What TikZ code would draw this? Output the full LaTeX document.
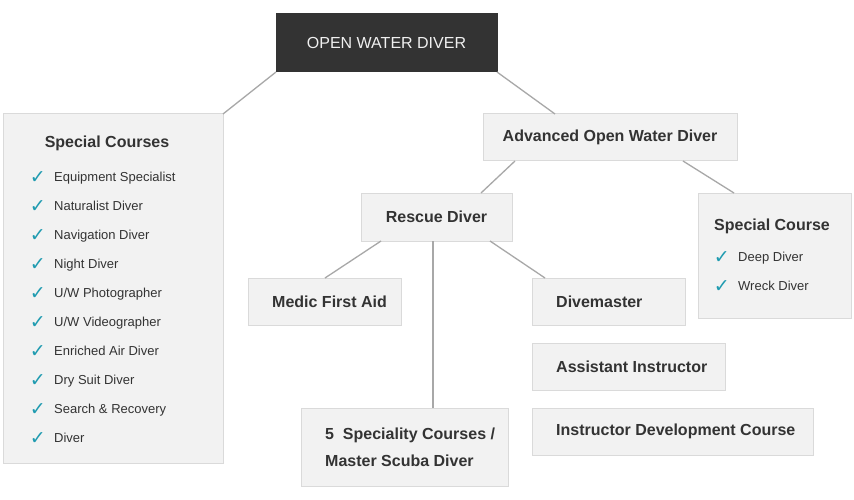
\documentclass[tikz,border=0pt]{standalone}
\usepackage{fontspec}
\setmainfont{Liberation Sans}
\newfontfamily\symfont{DejaVu Sans}
\usetikzlibrary{positioning, calc}
\definecolor{owdgray}{HTML}{333333}
\definecolor{boxfill}{HTML}{F2F2F2}
\definecolor{boxline}{HTML}{DADADA}
\definecolor{linkgray}{HTML}{A8A8A8}
\definecolor{txtgray}{HTML}{333333}
\definecolor{tickblue}{HTML}{1F9BB0}
\newcommand{\chk}{{\symfont\color{tickblue}✓}}

\begin{document}
\begin{tikzpicture}[x=1pt, y=-1pt,
  box/.style={draw=boxline, fill=boxfill, line width=1pt, anchor=north west, inner sep=0pt, outer sep=0pt},
  btxt/.style={font=\fontsize{16}{27}\selectfont\bfseries, text=txtgray, inner sep=0pt},
  item/.style={font=\fontsize{13}{16}\selectfont, text=txtgray, inner sep=0pt, anchor=west, text height=10pt, text depth=3pt},
  chkmark/.style={font=\fontsize{19}{19}\selectfont, inner sep=0pt},
  link/.style={draw=linkgray, line width=1.3pt},
]
\useasboundingbox[fill=white] (0,0) rectangle (854,500);

%% Top
\node[box, fill=owdgray, draw=owdgray, minimum width=221pt, minimum height=58pt,
  font=\fontsize{16}{19}\selectfont, text=white!94!black] (owd) at (276,14) {OPEN WATER DIVER};

%% Special courses, left column
\node[box, minimum width=220pt, minimum height=349pt] (sc) at (3,114) {};
\node[btxt] (sctitle) at (107,143) {Special Courses};
\foreach \crs [count=\i] in {Equipment Specialist, Naturalist Diver, Navigation Diver,
  Night Diver, U/W Photographer, U/W Videographer, Enriched Air Diver,
  Dry Suit Diver, Search \& Recovery, Diver} {
  \node[item] (sc\i) at (54,{149+29*\i}) {\crs};
  \node[chkmark, left=8pt of sc\i] (ck\i) {\chk};
}

%% Advanced branch
\node[box, btxt, minimum width=254pt, minimum height=47pt] (aow) at (483,114) {Advanced Open Water Diver};
\node[box, btxt, minimum width=151pt, minimum height=48pt] (rd) at (361,193) {Rescue Diver};
\node[box, minimum width=153pt, minimum height=125pt] (scr) at (698,193) {};
\node[btxt, anchor=west] (scrtitle) at (714,226) {Special Course};
\node[item] (scr1) at (738,258) {Deep Diver};
\node[chkmark, left=8pt of scr1] (scrck1) {\chk};
\node[item] (scr2) at (738,287) {Wreck Diver};
\node[chkmark, left=8pt of scr2] (scrck2) {\chk};

%% Rescue branch
\node[box, minimum width=153pt, minimum height=47pt] (mfa) at (248,278) {};
\node[btxt, right=24pt of mfa.west] (mfatext) {Medic First Aid};
\node[box, minimum width=153pt, minimum height=47pt] (dm) at (532,278) {};
\node[btxt, right=24pt of dm.west] (dmtext) {Divemaster};
\node[box, minimum width=193pt, minimum height=47pt] (ai) at (532,343) {};
\node[btxt, right=24pt of ai.west] (aitext) {Assistant Instructor};
\node[box, minimum width=281pt, minimum height=47pt] (idc) at (532,408) {};
\node[btxt, right=24pt of idc.west] (idctext) {Instructor Development Course};
\node[box, minimum width=207pt, minimum height=78pt] (msd) at (301,408) {};
\node[btxt, align=left, right=24pt of msd.west] (msdtext) {5\ \ Speciality Courses /\\Master Scuba Diver};

%% Connectors
\draw[link] (owd.south west) -- (sc.north east);
\draw[link] (owd.south east) -- ([xshift=72pt]aow.north west);
\draw[link] ([xshift=32pt]aow.south west) -- ([xshift=120pt]rd.north west);
\draw[link] ([xshift=-54pt]aow.south east) -- ([xshift=36pt]scr.north west);
\draw[link] ([xshift=20pt]rd.south west) -- ([xshift=77pt]mfa.north west);
\draw[link] ([xshift=72pt]rd.south west) -- ([xshift=132pt]msd.north west);
\draw[link] ([xshift=-22pt]rd.south east) -- ([xshift=13pt]dm.north west);

\end{tikzpicture}
\end{document}
